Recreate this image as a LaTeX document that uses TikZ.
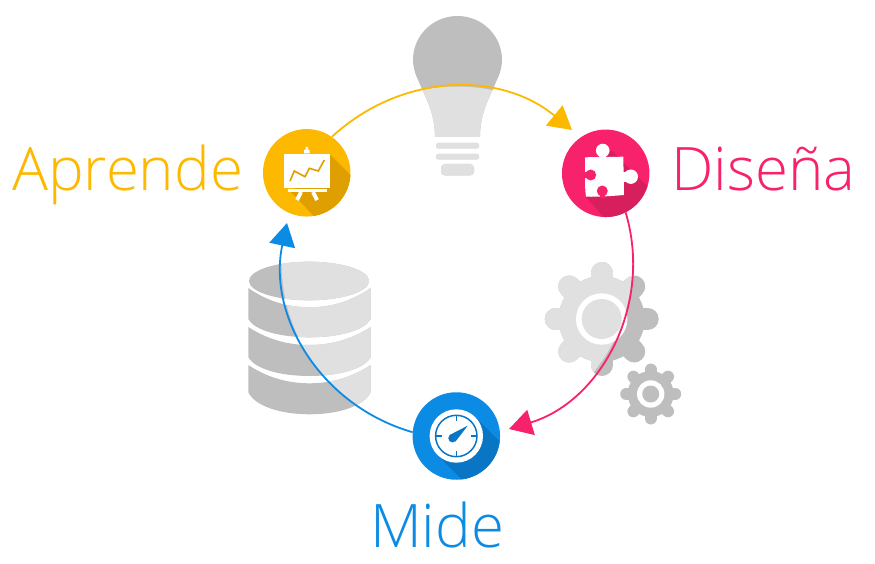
\documentclass[tikz,border=0pt]{standalone}
\usepackage{fontspec}
\setmainfont{Open Sans Light}
\usetikzlibrary{arrows.meta}
\definecolor{aprendecol}{HTML}{FDB900}
\definecolor{aprendedark}{HTML}{DF9F00}
\definecolor{disenacol}{HTML}{F8226C}
\definecolor{disenadark}{HTML}{D81F5E}
\definecolor{midecol}{HTML}{0B8BE3}
\definecolor{midedark}{HTML}{0876C5}
\definecolor{darkgrey}{HTML}{BEBEBE}
\definecolor{lightgrey}{HTML}{E0E0E0}
\tikzset{
	stagecircle/.style={circle,minimum size=87.5pt,inner sep=0pt,fill=#1},
	stagelabel/.style={anchor=base west,inner sep=0pt,text=#1,font=\fontsize{60}{68}\selectfont},
	cyclearrow/.style={line width=1.8pt,draw=#1,-{Triangle[length=23pt,width=26pt,fill=#1]}},
}
% all the grey pictures, #1 is their colour
\newcommand{\greyicons}[1]{
	% bulb
	\fill[#1] (435,137) -- (480,137) .. controls (480,112) and (490,97) .. (496,82) .. controls (500,74) and (502,67) .. (502,60)
		.. controls (502,35.4) and (482,16) .. (457.5,16) .. controls (433,16) and (413,35.4) .. (413,60)
		.. controls (413,67) and (415,74) .. (419,82) .. controls (425,97) and (435,112) .. (435,137) -- cycle;
	\fill[#1,rounded corners=2.5pt] (436,143) rectangle (479,148.5);
	\fill[#1,rounded corners=2.5pt] (436,154) rectangle (479,159.5);
	\fill[#1,rounded corners=4pt] (441,164) -- (474,164) -- (474,175.5) -- (441,175.5) -- cycle;
	% big gear
	\foreach \a in {0,45,...,315}
		\draw[#1,line width=22pt,line cap=round] (601.7,319) -- ++(\a:46);
	\fill[#1] (601.7,319) circle [radius=43];
	\fill[white] (601.7,319) circle [radius=25.7];
	\fill[#1] (601.7,319) circle [radius=20];
	% small gear
	\foreach \a in {0,45,...,315}
		\draw[#1,line width=12pt,line cap=round] (650.7,394) -- ++(\a:24.5);
	\fill[#1] (650.7,394) circle [radius=23];
	\fill[white] (650.7,394) circle [radius=13.7];
	\fill[#1] (650.7,394) circle [radius=8.5];
	% database
	\fill[#1] (309,281) ellipse [x radius=60,y radius=19.3];
	\foreach \yl/\yc/\ylb/\yb in {288/307.3/319/337.3,327/345/357/376,365/383.3/392/414.3}
		\fill[#1] (248.3,\yl) .. controls (265,\yl*.4+\yc*.6) and (285,\yc) .. (309.5,\yc)
			.. controls (334,\yc) and (354,\yl*.4+\yc*.6) .. (370.7,\yl) -- (370.7,\ylb)
			.. controls (365,\ylb*.4+\yb*.6) and (340,\yb) .. (309.5,\yb)
			.. controls (279,\yb) and (254,\ylb*.4+\yb*.6) .. (248.3,\ylb) -- cycle;
}

\begin{document}
\begin{tikzpicture}[x=1pt,y=-1pt]
	\useasboundingbox (0,0) rectangle (875,564);
	\coordinate (ring) at (457,262);
	
	\greyicons{darkgrey}
	\begin{scope}
		\clip (ring) circle [radius=175.5];
		\greyicons{lightgrey}
	\end{scope}
	
	\node[stagecircle=aprendecol] (aprende) at (306.7,172.8) {};
	\node[stagecircle=disenacol] (disena) at (605.7,173.3) {};
	\node[stagecircle=midecol] (mide) at (456.3,436) {};
	
	\node[stagelabel=aprendecol] (aprendetxt) at (12,191) {Aprende};
	\node[stagelabel=disenacol] (disenatxt) at (671,190) {Diseña};
	\node[stagelabel=midecol] (midetxt) at (370,547) {Mide};
	
	\coordinate (disenatip) at (572,130);
	\coordinate (midetip) at (509,429);
	\coordinate (aprendetip) at (287,223);
	\draw[cyclearrow=aprendecol] (aprende.55) to[bend left=41] (disenatip);
	\draw[cyclearrow=disenacol] (disena.-63) to[bend left=45] (midetip);
	\draw[cyclearrow=midecol] (mide.175) to[bend left=43] (aprendetip);
	
	% board
	\begin{scope}
		\clip (aprende) circle [radius=43.75];
		\fill[aprendedark] (330,154.3) -- (390,214.3) -- (350,254) -- (291,192) -- cycle;
	\end{scope}
	\fill[white] (304,153.5) -- (304,150) -- (305.5,149.5) -- (305.5,147) -- (308,147) -- (308,149.5) -- (309.5,150) -- (309.5,153.5) -- cycle;
	\fill[white] (284.3,154.3) rectangle (330,187.7);
	\fill[white] (288,189.5) rectangle (327,192.5);
	\draw[white,line width=4pt] (301,192) -- (297,200);
	\draw[white,line width=4pt] (313,192) -- (317,200);
	\draw[aprendedark,line width=1.6pt] (290,181) -- (294.3,171) -- (305,176.7) -- (309.3,168.3) -- (318.3,171) -- (324.3,160);
	
	% puzzle
	\begin{scope}
		\clip (disena) circle [radius=43.75];
		\fill[disenadark] (611,150) -- (680,219) -- (640,259) -- (586,197) -- cycle;
	\end{scope}
	\fill[white] (585,157.3) -- (623.3,156.7) -- (624,195) .. controls (612,196) and (600,197) .. (586,196.7)
		.. controls (585,190) and (585,185) .. (585,157.3) -- cycle;
	\fill[white] (602.7,150.5) circle [radius=6.8];
	\fill[white] (599,153) rectangle (606,158);
	\fill[white] (630.8,176.7) circle [radius=7.2];
	\fill[white] (622,172) rectangle (628,182);
	\fill[disenacol] (590.7,175) circle [radius=5.5];
	\fill[disenacol] (584,172) rectangle (588,178);
	\fill[disenacol] (602.3,191) circle [radius=5.5];
	\fill[disenacol] (599.5,193) rectangle (605,198);
	
	% dial
	\begin{scope}
		\clip (mide) circle [radius=43.75];
		\fill[midedark] (475.2,417.1) -- (535,477) -- (497,515) -- (437.4,454.9) -- cycle;
	\end{scope}
	\fill[white] (mide) circle [radius=26.7];
	\draw[midedark,line width=1.5pt] (mide) circle [radius=20.7];
	\foreach \a in {0,90,180,270}
		\draw[midedark,line width=1.5pt] (mide) ++(\a:20.7) -- ++(\a:-6);
	\fill[midedark] (452.5,438.2) circle [radius=4.2];
	\fill[midedark] (449.6,435) -- (467.7,425.7) -- (455.6,441.4) -- cycle;
\end{tikzpicture}
\end{document}
